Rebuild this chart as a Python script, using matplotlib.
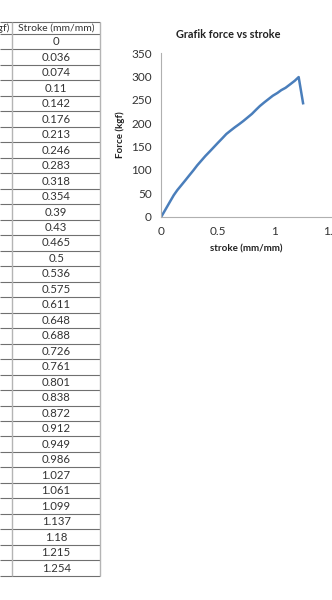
import matplotlib.pyplot as plt

stroke = [0, 0.036, 0.074, 0.11, 0.142, 0.176, 0.213, 0.246, 0.283, 0.318,
          0.354, 0.39, 0.43, 0.465, 0.5, 0.536, 0.575, 0.611, 0.648, 0.688,
          0.726, 0.761, 0.801, 0.838, 0.872, 0.912, 0.949, 0.986, 1.027,
          1.061, 1.099, 1.137, 1.18, 1.215, 1.254]
force = [0, 15, 31, 46, 57, 67, 78, 88, 99, 110,
         120, 130, 140, 149, 158, 167, 177, 184, 191, 198,
         205, 212, 220, 229, 237, 245, 252, 259, 265,
         271, 276, 283, 291, 299, 243]
stroke_labels = ['0', '0.036', '0.074', '0.11', '0.142', '0.176', '0.213',
                 '0.246', '0.283', '0.318', '0.354', '0.39', '0.43', '0.465',
                 '0.5', '0.536', '0.575', '0.611', '0.648', '0.688', '0.726',
                 '0.761', '0.801', '0.838', '0.872', '0.912', '0.949', '0.986',
                 '1.027', '1.061', '1.099', '1.137', '1.18', '1.215', '1.254']

plt.rcParams['font.family'] = ['Lato', 'DejaVu Sans']

fig = plt.figure(figsize=(3.32, 6.0), dpi=100)

# --- spreadsheet table (pixel coordinates) ---
tab = fig.add_axes([0, 0, 1, 1])
tab.set_xlim(0, 332)
tab.set_ylim(600, 0)
tab.axis('off')

top = 21.7
head_h = 12.3
row_h = 15.48
col_sep = 12.3
right = 100
n = len(stroke_labels)
bottom = top + head_h + n * row_h

tab.hlines(top, 0, right, color='#707070', lw=0.8)
tab.hlines(top + head_h, 0, right, color='#707070', lw=0.8)
for i in range(n):
    y = top + head_h + (i + 1) * row_h
    tab.hlines(y, 0, right, color='#707070', lw=0.8)
tab.vlines([col_sep, right], top, bottom, color='#b4b4b4', lw=1.0)

txt = '#333333'
tab.text(col_sep - 2.5, top + head_h / 2, 'Force (kgf)', ha='right',
         va='center', fontsize=7.5, color=txt)
tab.text((col_sep + right) / 2, top + head_h / 2, 'Stroke (mm/mm)',
         ha='center', va='center', fontsize=7.5, color=txt)
for i, lab in enumerate(stroke_labels):
    y = top + head_h + (i + 0.5) * row_h
    tab.text((col_sep + right) / 2, y, lab, ha='center', va='center',
             fontsize=8.2, color=txt)

# chart title sits over the whole chart box, not the plot area
tab.text(228.5, 34, 'Grafik force vs stroke', ha='center', va='center',
         fontsize=7.8, fontweight='bold', color='#222222')

# --- chart ---
ax = fig.add_axes([0.486, 0.639, 0.5106, 0.2722])
ax.plot(stroke, force, color='#4a7ebb', lw=1.8)
ax.set_xlim(0, 1.5)
ax.set_ylim(0, 350)
ax.set_xticks([0, 0.5, 1, 1.5])
ax.set_xticklabels(['0', '0.5', '1', '1.5'])
ax.set_yticks(range(0, 351, 50))
ax.tick_params(length=0, labelsize=8.5, colors='#333333')
ax.tick_params(axis='y', pad=7)
ax.tick_params(axis='x', pad=7)
for s in ['top', 'right']:
    ax.spines[s].set_visible(False)
for s in ['left', 'bottom']:
    ax.spines[s].set_color('#b0b0b0')
    ax.spines[s].set_linewidth(0.8)
ax.patch.set_alpha(0)
ax.set_xlabel('stroke (mm/mm)', fontsize=7, fontweight='bold', labelpad=5,
              color='#222222')
ax.set_ylabel('Force (kgf)', fontsize=7, fontweight='bold', labelpad=4,
              color='#222222')

fig.savefig('out.png', dpi=100)
